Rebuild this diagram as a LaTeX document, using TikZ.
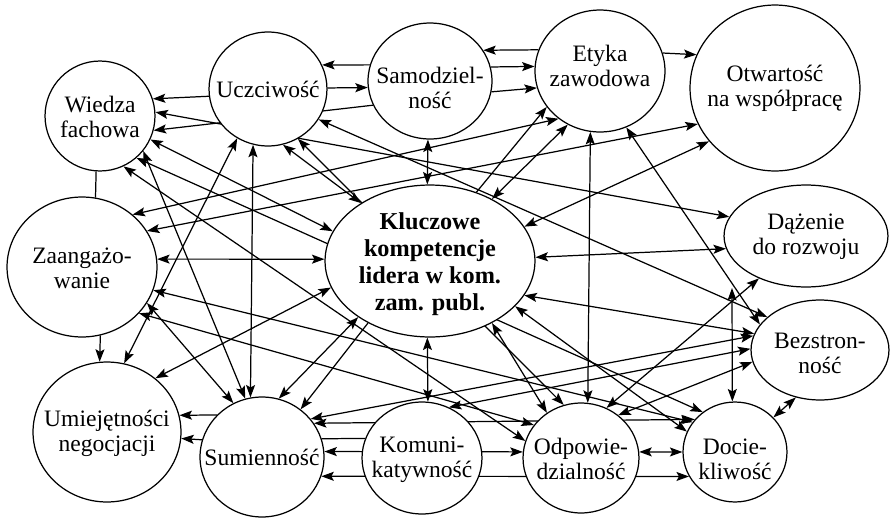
\documentclass[tikz,border=0pt]{standalone}
\usepackage{fontspec}
\setmainfont{Liberation Serif}
\usetikzlibrary{arrows.meta,shapes.geometric,backgrounds}
\tikzset{
  comp/.style={ellipse, draw, fill=white, line width=0.7pt, inner sep=0pt},
  rad/.style 2 args={minimum width=#1*0.04cm, minimum height=#2*0.04cm},
  txt/.style={align=center, inner sep=0pt, font=\fontsize{13.4}{14.2}\selectfont},
  coretxt/.style={txt, font=\fontsize{13.8}{15.3}\selectfont\bfseries},
  arr/.style={-{Stealth[length=2.5mm,width=1.8mm,inset=0.5mm]}, line width=0.7pt},
  arr2/.style={{Stealth[length=2.5mm,width=1.8mm,inset=0.5mm]}-{Stealth[length=2.5mm,width=1.8mm,inset=0.5mm]}, line width=0.7pt},
  link/.style={line width=0.7pt},
}
\begin{document}
\begin{tikzpicture}[x=0.02cm,y=-0.02cm]
  \useasboundingbox (0,0) rectangle (890,518);
  % competences
  \node[comp,rad={55}{55}] (W) at (100,116) {};
  \node[txt] (Wt) at (100,117) {Wiedza\\fachowa};
  \node[comp,rad={59}{57}] (U) at (268,89) {};
  \node[txt] (Ut) at (268,89) {Uczciwość};
  \node[comp,rad={62}{58}] (S) at (430,81) {};
  \node[txt] (St) at (430,88) {Samodziel-\\ność};
  \node[comp,rad={65}{61}] (E) at (600,71) {};
  \node[txt] (Et) at (600,66) {Etyka\\zawodowa};
  \node[comp,rad={85}{83}] (O) at (775,88) {};
  \node[txt] (Ot) at (775,88) {Otwartość\\na współpracę};
  \node[comp,rad={82}{51}] (D) at (806,236) {};
  \node[txt] (Dt) at (806,237) {Dążenie\\do rozwoju};
  \node[comp,rad={69}{50}] (B) at (820,350) {};
  \node[txt] (Bt) at (820,353) {Bezstron-\\ność};
  \node[comp,rad={52}{50}] (Dc) at (735,452) {};
  \node[txt] (Dct) at (735,459) {Docie-\\kliwość};
  \node[comp,rad={58}{55}] (Od) at (581,458) {};
  \node[txt] (Odt) at (581,459) {Odpowie-\\dzialność};
  \node[comp,rad={60}{56}] (K) at (422,458) {};
  \node[txt] (Kt) at (422,460) {Komuni-\\katywność};
  \node[comp,rad={62}{60}] (Su) at (262,457) {};
  \node[txt] (Sut) at (262,457) {Sumienność};
  \node[comp,rad={74}{70}] (Um) at (107,432) {};
  \node[txt] (Umt) at (107,433) {Umiejętności\\negocjacji};
  \node[comp,rad={75}{70}] (Z) at (82,267) {};
  \node[txt] (Zt) at (82,268) {Zaangażo-\\wanie};
  \node[comp,rad={105}{76}] (C) at (430,261) {};
  \node[coretxt] (Ct) at (430,264) {Kluczowe\\kompetencje\\lidera w kom.\\zam. publ.};
  \coordinate (tipD) at (732,288);

  \begin{scope}[on background layer]
    % top row
    \draw[arr] (S.165) -- (U.24);
    \draw[arr] (U.1) -- (S.186);
    \draw[arr] (S.203) -- (W.345);
    \draw[arr] (U.187) -- (W.18);
    \draw[arr2] (W.4) -- (D.166);
    \draw[arr] (E.161) -- (S.30);
    \draw[arr] (S.13) -- (E.176);
    \draw[arr] (S.350) -- (E.195);
    \draw[arr] (E.16) -- (O.157);
    % left column
    \draw[link] (W.266) -- (Z.79);
    \draw[arr] (Z.285) -- (Um.96);
    % core links
    \draw[arr2] (C.92) -- (S.268);
    \draw[arr2] (C.268) -- (K.84);
    \draw[arr2] (C.179) -- (Z.6);
    \draw[arr2] (C.2) -- (D.189);
    \draw[arr2] (C.340) -- (B.166);
    \draw[arr2] (C.20) -- (O.219);
    \draw[arr] (C.56) -- (E.214);
    \draw[arr2] (C.45) -- (E.239);
    \draw[arr2] (C.315) -- (Od.127);
    \draw[arr2] (C.332) -- (Dc.157);
    \draw[arr2] (C.195) -- (Um.48);
    \draw[arr2] (C.218) -- (Su.74);
    \draw[arr] (C.225) -- (Su.51);
    \draw[arr2] (C.163) -- (W.335);
    \draw[arr2] (U.285) -- (C.140);
    % long links
    \draw[arr2] (W.311) -- (Dc.129);
    \draw[arr2] (U.301) -- (Od.108);
    \draw[arr2] (U.329) -- (B.148);
    \draw[arr2] (E.295) -- (B.157);
    \draw[arr2] (E.261) -- (Od.83);
    \draw[arr2] (Od.63) -- (D.222);
    \draw[arr2] (Od.49) -- (B.190);
    \draw[arr2] (Su.38) -- (B.168);
    \draw[arr2] (K.62) -- (B.179);
    \draw[arr2] (Z.46) -- (E.229);
    \draw[arr2] (Z.29) -- (O.205);
    \draw[arr2] (W.321) -- (Su.106);
    \draw[arr2] (W.295) -- (Od.163);
    \draw[arr2] (U.238) -- (Um.76);
    \draw[arr2] (U.255) -- (Su.101);
    \draw[arr2] (Z.331) -- (Su.118);
    \draw[arr2] (Z.342) -- (Dc.145);
    \draw[arr2] (Z.321) -- (Od.145);
    % bottom row
    \draw[arr2] (Su.33) -- (Dc.141);
    \draw[link] (Su.17) -- (K.161);
    \draw[arr2] (Su.5) -- (Od.174);
    \draw[arr2] (Su.342) -- (Dc.208);
    \draw[arr2] (Od.6) -- (Dc.180);
    \draw[arr2] (Dc.42) -- (B.243);
    \draw[arr2] (Dc.93) -- (tipD);
    \draw[arr] (Su.137) -- (Um.13);
    \draw[arr] (Su.164) -- (Um.355);
  \end{scope}
\end{tikzpicture}
\end{document}
